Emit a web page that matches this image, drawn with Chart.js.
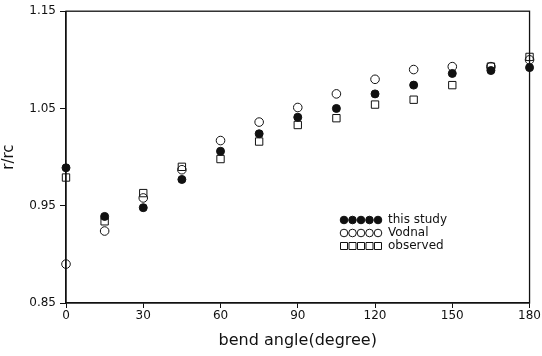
<!DOCTYPE html>
<html>
<head>
<meta charset="utf-8">
<script src="https://cdn.jsdelivr.net/npm/chart.js@4.4.0/dist/chart.umd.min.js"></script>
<style>
  html, body { margin: 0; padding: 0; background: #fff; }
  #wrap { width: 542px; height: 356px; }
</style>
</head>
<body>
<div id="wrap"><canvas id="scatterChart" width="542" height="356"></canvas></div>
<script>
// bend angle (degree)
var angles = [0, 15, 30, 45, 60, 75, 90, 105, 120, 135, 150, 165, 180];
// r/rc values
var thisStudy = [0.989, 0.939, 0.948, 0.977, 1.006, 1.024, 1.041, 1.050, 1.065, 1.074, 1.086, 1.089, 1.092];
var vodnal    = [0.890, 0.924, 0.958, 0.987, 1.017, 1.036, 1.051, 1.065, 1.080, 1.090, 1.093, 1.093, 1.100];
var observed  = [0.979, 0.934, 0.963, 0.990, 0.998, 1.016, 1.033, 1.040, 1.054, 1.059, 1.074, 1.093, 1.103];
var xTicks = [0, 30, 60, 90, 120, 150, 180];
var yTicks = [0.85, 0.95, 1.05, 1.15];

function pts(vals) {
  return angles.map(function (a, i) { return { x: a, y: vals[i] }; });
}

// frame + legend with five markers per row, drawn inside the plot
var framePlugin = {
  id: 'frame',
  afterDraw: function (chart) {
    var c = chart.ctx, a = chart.chartArea;
    c.save();
    c.strokeStyle = '#111';
    c.lineWidth = 1.3;
    c.strokeRect(a.left, a.top, a.right - a.left, a.bottom - a.top);

    var x0 = 344, y0 = 220, dy = 13;
    c.font = '12px "DejaVu Sans"';
    c.textBaseline = 'middle';
    chart.data.datasets.forEach(function (ds, r) {
      var y = y0 + r * dy;
      for (var k = 0; k < 5; k++) {
        var x = x0 + k * 8.5;
        c.beginPath();
        c.lineWidth = 1;
        c.strokeStyle = '#111';
        if (ds.pointStyle === 'rect') {
          c.rect(x - 3.5, y - 3.5, 7, 7);
        } else {
          c.arc(x, y, 3.8, 0, Math.PI * 2);
        }
        if (ds.pointBackgroundColor === '#111') { c.fillStyle = '#111'; c.fill(); }
        c.stroke();
      }
      c.fillStyle = '#111';
      c.fillText(ds.label, x0 + 44, y);
    });
    c.restore();
  }
};

var ctxS = document.getElementById("scatterChart").getContext('2d');
var myScatterChart = new Chart(ctxS, {
  type: 'scatter',
  data: {
    datasets: [
      {
        label: "this study",
        data: pts(thisStudy),
        pointStyle: 'circle',
        pointRadius: 4,
        pointBackgroundColor: '#111',
        pointBorderColor: '#111',
        pointBorderWidth: 1,
        clip: false
      },
      {
        label: "Vodnal",
        data: pts(vodnal),
        pointStyle: 'circle',
        pointRadius: 4.3,
        pointBackgroundColor: 'rgba(255,255,255,0)',
        pointBorderColor: '#111',
        pointBorderWidth: 1,
        clip: false
      },
      {
        label: "observed",
        data: pts(observed),
        pointStyle: 'rect',
        pointRadius: 5.2,
        pointBackgroundColor: 'rgba(255,255,255,0)',
        pointBorderColor: '#111',
        pointBorderWidth: 1,
        clip: false
      }
    ]
  },
  options: {
    responsive: false,
    animation: false,
    layout: { padding: { top: 11, right: 11, bottom: 6, left: 0 } },
    plugins: {
      legend: { display: false },
      tooltip: { enabled: false }
    },
    scales: {
      x: {
        type: 'linear',
        min: 0,
        max: 180,
        afterBuildTicks: function (s) { s.ticks = xTicks.map(function (v) { return { value: v }; }); },
        afterFit: function (s) { s.height = 47; },
        grid: { display: true, drawOnChartArea: false, drawTicks: true, tickLength: 5, color: '#111' },
        border: { display: true, color: '#111', width: 1.3 },
        ticks: { color: '#111', font: { family: 'DejaVu Sans', size: 12 }, padding: 1, maxRotation: 0 },
        title: { display: true, text: 'bend angle(degree)', color: '#111', font: { family: 'DejaVu Sans', size: 16 }, padding: { top: 1, bottom: 0 } }
      },
      y: {
        type: 'linear',
        min: 0.85,
        max: 1.15,
        afterBuildTicks: function (s) { s.ticks = yTicks.map(function (v) { return { value: v }; }); },
        afterFit: function (s) { s.width = 66; },
        grid: { display: true, drawOnChartArea: false, drawTicks: true, tickLength: 6, color: '#111' },
        border: { display: true, color: '#111', width: 1.3 },
        ticks: {
          color: '#111',
          font: { family: 'DejaVu Sans', size: 12 },
          padding: 4,
          callback: function (v) { return Number(v).toFixed(2); }
        },
        title: { display: true, text: 'r/rc', color: '#111', font: { family: 'DejaVu Sans', size: 15 }, padding: { top: 0, bottom: 6 } }
      }
    }
  },
  plugins: [framePlugin]
});
</script>
</body>
</html>
